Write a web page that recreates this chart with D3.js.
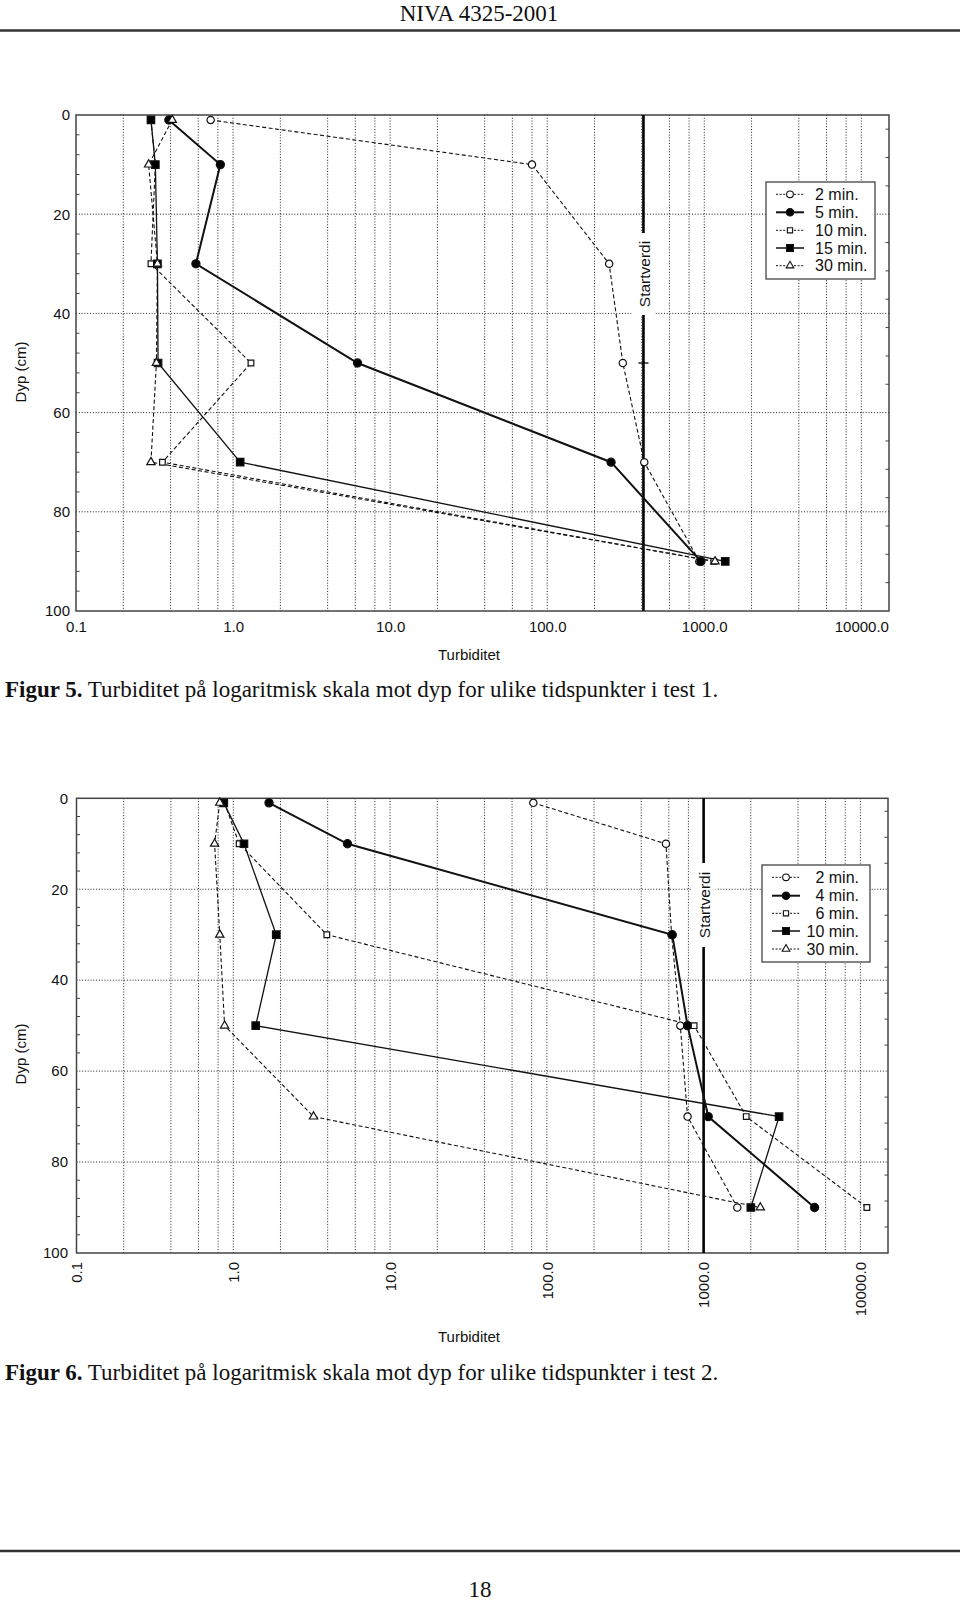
<!DOCTYPE html>
<html>
<head>
<meta charset="utf-8">
<script src="https://cdn.jsdelivr.net/npm/d3@7"></script>
<style>
  html, body { margin: 0; padding: 0; background: #fff; }
  svg { display: block; }
  .sans { font-family: "Liberation Sans", Arial, Helvetica, sans-serif; }
  .serif { font-family: "Liberation Serif", "Times New Roman", serif; }
</style>
</head>
<body>
<script>
// ---------------- DATA ----------------
const depths = [1, 10, 30, 50, 70, 90];

// Figur 5 (test 1)
const fig5Names = ["2 min.", "5 min.", "10 min.", "15 min.", "30 min."];
const fig5_2min  = [0.72, 80, 248, 303, 415, 930];
const fig5_5min  = [0.39, 0.83, 0.58, 6.2, 255, 952];
const fig5_10min = [0.30, 0.32, 0.30, 1.30, 0.355, 1150];
const fig5_15min = [0.30, 0.32, 0.33, 0.333, 1.11, 1360];
const fig5_30min = [0.41, 0.29, 0.33, 0.325, 0.30, 1170];
const fig5Startverdi = 410;

// Figur 6 (test 2)
const fig6Names = ["2 min.", "4 min.", "6 min.", "10 min.", "30 min."];
const fig6_2min  = [82, 575, 625, 710, 790, 1640];
const fig6_4min  = [1.69, 5.35, 631, 790, 1070, 5100];
const fig6_6min  = [0.88, 1.09, 3.95, 870, 1870, 11000];
const fig6_10min = [0.87, 1.17, 1.88, 1.39, 3030, 2000];
const fig6_30min = [0.82, 0.76, 0.82, 0.88, 3.25, 2300];
const fig6Startverdi = 1000;

// Axes
const xDomain = [0.1, 15000];
const xTickValues = [0.1, 1, 10, 100, 1000, 10000];
const xTickLabels = ["0.1", "1.0", "10.0", "100.0", "1000.0", "10000.0"];
const xGridValues = [0.2,0.4,0.6,0.8,1,2,4,6,8,10,20,40,60,80,100,200,400,600,800,1000,2000,4000,6000,8000,10000];
const yTickValues = [0, 20, 40, 60, 80, 100];
const yGridValues = [20, 40, 60, 80];
const xTitle = "Turbiditet";
const yTitle = "Dyp (cm)";
const startLabel = "Startverdi";

// ---------------- DRAW ----------------
const svg = d3.select("body").append("svg").attr("width", 960).attr("height", 1601);

const seriesStyles = [
  { sym: d3.symbolCircle,   fill: "#fff", size: 42, dash: "4,2.5", width: 1.1, legDash: "2,1.6", legWidth: 1 },
  { sym: d3.symbolCircle,   fill: "#000", size: 52, dash: null,    width: 2.0, legDash: null,    legWidth: 2 },
  { sym: d3.symbolSquare,   fill: "#fff", size: 32, dash: "4,2.5", width: 1.1, legDash: "2,1.6", legWidth: 1 },
  { sym: d3.symbolSquare,   fill: "#000", size: 56, dash: null,    width: 1.3, legDash: null,    legWidth: 1.5 },
  { sym: d3.symbolTriangle, fill: "#fff", size: 30, dash: "4,2.5", width: 1.1, legDash: "2,1.6", legWidth: 1 }
];

function drawChart(cfg) {
  const g = svg.append("g");
  const x = d3.scaleLog().domain(xDomain).range([cfg.left, cfg.right]);
  const y = d3.scaleLinear().domain([0, 100]).range([cfg.top, cfg.bottom]);

  // grid
  g.append("g").selectAll("line").data(xGridValues).join("line")
    .attr("x1", d => x(d)).attr("x2", d => x(d))
    .attr("y1", cfg.top).attr("y2", cfg.bottom)
    .attr("stroke", "#222").attr("stroke-width", 1).attr("stroke-dasharray", "1,1.8");
  g.append("g").selectAll("line").data(yGridValues).join("line")
    .attr("x1", cfg.left).attr("x2", cfg.right)
    .attr("y1", d => y(d)).attr("y2", d => y(d))
    .attr("stroke", "#222").attr("stroke-width", 1).attr("stroke-dasharray", "1,1.8");

  // minor ticks (inside)
  const leftMinor = d3.range(4, 100, 4).filter(d => d % 20 !== 0);
  g.append("g").selectAll("line").data(leftMinor).join("line")
    .attr("x1", cfg.left).attr("x2", cfg.left + 3.5)
    .attr("y1", d => y(d)).attr("y2", d => y(d))
    .attr("stroke", "#444").attr("stroke-width", 1);
  const rightMinor = d3.range(0, 18).map(k => 20 / 7 + k * 40 / 7).filter(d => d < 100 && Math.abs(d % 20) > 0.5);
  g.append("g").selectAll("line").data(rightMinor).join("line")
    .attr("x1", cfg.right - 3.5).attr("x2", cfg.right)
    .attr("y1", d => y(d)).attr("y2", d => y(d))
    .attr("stroke", "#444").attr("stroke-width", 1);

  // frame
  g.append("rect").attr("x", cfg.left).attr("y", cfg.top)
    .attr("width", cfg.right - cfg.left).attr("height", cfg.bottom - cfg.top)
    .attr("fill", "none").attr("stroke", "#444").attr("stroke-width", 1.5);

  // y axis
  const yAxis = g.append("g").attr("transform", `translate(${cfg.left},0)`)
    .call(d3.axisLeft(y).tickValues(yTickValues).tickFormat(d3.format("d")).tickSize(0).tickPadding(cfg.yPad));
  yAxis.select(".domain").remove();
  yAxis.selectAll("text").attr("class", "sans").style("font-size", "15px").attr("fill", "#111");

  // x axis
  const xAxis = g.append("g").attr("transform", `translate(0,${cfg.bottom})`)
    .call(d3.axisBottom(x).tickValues(xTickValues).tickFormat((d, i) => xTickLabels[i]).tickSize(0).tickPadding(10.5));
  xAxis.select(".domain").remove();
  xAxis.selectAll("text").attr("class", "sans").style("font-size", "15px").attr("fill", "#111");
  if (cfg.rotateX) {
    xAxis.selectAll("text")
      .attr("transform", "rotate(-90)")
      .attr("x", -9).attr("y", 0).attr("dy", "0.35em")
      .style("text-anchor", "end");
  }

  // titles
  g.append("text").attr("class", "sans").style("font-size", "15px").attr("fill", "#111")
    .attr("x", cfg.xTitleX).attr("y", cfg.xTitleY).attr("text-anchor", "middle").text(xTitle);
  g.append("text").attr("class", "sans").style("font-size", "15px").attr("fill", "#111")
    .attr("transform", `translate(${cfg.yTitleX},${cfg.yTitleY}) rotate(-90)`)
    .attr("text-anchor", "middle").attr("dy", "0.35em").text(yTitle);

  // Startverdi line
  const sx = x(cfg.start);
  g.append("line").attr("x1", sx).attr("x2", sx).attr("y1", cfg.top).attr("y2", cfg.bottom)
    .attr("stroke", "#000").attr("stroke-width", 2.6);
  if (cfg.startCross != null) {
    g.append("line").attr("x1", sx - 5).attr("x2", sx + 5)
      .attr("y1", y(cfg.startCross)).attr("y2", y(cfg.startCross))
      .attr("stroke", "#000").attr("stroke-width", 1.3);
  }
  g.append("rect").attr("x", sx - 12).attr("y", cfg.gapTop)
    .attr("width", 24).attr("height", cfg.gapBottom - cfg.gapTop).attr("fill", "#fff");
  g.append("text").attr("class", "sans").style("font-size", "15.5px").attr("fill", "#111")
    .attr("transform", `translate(${sx + 1},${(cfg.gapTop + cfg.gapBottom) / 2}) rotate(-90)`)
    .attr("text-anchor", "middle").attr("dy", "0.35em").text(startLabel);

  // series lines
  const line = d3.line().x(d => x(d[0])).y(d => y(d[1]));
  cfg.series.forEach((vals, i) => {
    const st = seriesStyles[i];
    const pts = vals.map((v, j) => [v, depths[j]]);
    g.append("path").datum(pts).attr("d", line)
      .attr("fill", "none").attr("stroke", "#111")
      .attr("stroke-width", st.width)
      .attr("stroke-dasharray", st.dash);
  });
  // markers
  cfg.series.forEach((vals, i) => {
    const st = seriesStyles[i];
    const sym = d3.symbol().type(st.sym).size(st.size);
    g.append("g").selectAll("path").data(vals).join("path")
      .attr("transform", (d, j) => `translate(${x(d)},${y(depths[j])})`)
      .attr("d", sym)
      .attr("fill", st.fill).attr("stroke", "#111").attr("stroke-width", 1.2);
  });

  // legend
  const L = cfg.legend;
  g.append("rect").attr("x", L.x0).attr("y", L.y0).attr("width", L.x1 - L.x0).attr("height", L.y1 - L.y0)
    .attr("fill", "#fff").attr("stroke", "#444").attr("stroke-width", 1.3);
  cfg.names.forEach((name, i) => {
    const st = seriesStyles[i];
    const ry = L.rows[i];
    g.append("line").attr("x1", L.lineX0).attr("x2", L.lineX1).attr("y1", ry).attr("y2", ry)
      .attr("stroke", "#111").attr("stroke-width", st.legWidth).attr("stroke-dasharray", st.legDash);
    g.append("path").attr("transform", `translate(${(L.lineX0 + L.lineX1) / 2},${ry})`)
      .attr("d", d3.symbol().type(st.sym).size(st.size * 0.85))
      .attr("fill", st.fill).attr("stroke", "#111").attr("stroke-width", 1.1);
    g.append("text").attr("class", "sans").style("font-size", "16px").attr("fill", "#111")
      .attr("x", L.textX).attr("y", ry).attr("dy", "0.36em")
      .attr("text-anchor", L.anchor).text(name);
  });
}

drawChart({
  left: 76, right: 889, top: 115, bottom: 611, yPad: 6, rotateX: false,
  xTitleX: 469, xTitleY: 660, yTitleX: 21, yTitleY: 372,
  start: fig5Startverdi, startCross: 50, gapTop: 233, gapBottom: 315,
  series: [fig5_2min, fig5_5min, fig5_10min, fig5_15min, fig5_30min],
  names: fig5Names,
  legend: { x0: 766, x1: 875, y0: 182, y1: 279, rows: [194.3, 212.3, 230.3, 248, 265.7],
            lineX0: 776, lineX1: 804, textX: 815, anchor: "start" }
});

drawChart({
  left: 76.5, right: 888, top: 798.3, bottom: 1253, yPad: 8.5, rotateX: true,
  xTitleX: 469, xTitleY: 1342, yTitleX: 20.5, yTitleY: 1054,
  start: fig6Startverdi, startCross: null, gapTop: 863, gapBottom: 947,
  series: [fig6_2min, fig6_4min, fig6_6min, fig6_10min, fig6_30min],
  names: fig6Names,
  legend: { x0: 762, x1: 870, y0: 865, y1: 962, rows: [877.3, 895.7, 913.3, 931, 949],
            lineX0: 772, lineX1: 800, textX: 859, anchor: "end" }
});

// page header / footer / captions
svg.append("text").attr("class", "serif").style("font-size", "23px").attr("fill", "#111")
  .attr("x", 479).attr("y", 21).attr("text-anchor", "middle").text("NIVA 4325-2001");
svg.append("line").attr("x1", 0).attr("x2", 960).attr("y1", 30.5).attr("y2", 30.5)
  .attr("stroke", "#333").attr("stroke-width", 2.5);
svg.append("line").attr("x1", 0).attr("x2", 960).attr("y1", 1551).attr("y2", 1551)
  .attr("stroke", "#333").attr("stroke-width", 2.5);
svg.append("text").attr("class", "serif").style("font-size", "23px").attr("fill", "#111")
  .attr("x", 480).attr("y", 1597).attr("text-anchor", "middle").text("18");

function caption(yb, bold, rest) {
  const t = svg.append("text").attr("class", "serif").style("font-size", "23px").attr("fill", "#111")
    .attr("x", 5).attr("y", yb);
  t.append("tspan").attr("font-weight", "bold").text(bold);
  t.append("tspan").text(rest);
}
caption(697, "Figur 5.", " Turbiditet på logaritmisk skala mot dyp for ulike tidspunkter i test 1.");
caption(1380, "Figur 6.", " Turbiditet på logaritmisk skala mot dyp for ulike tidspunkter i test 2.");
</script>
</body>
</html>
